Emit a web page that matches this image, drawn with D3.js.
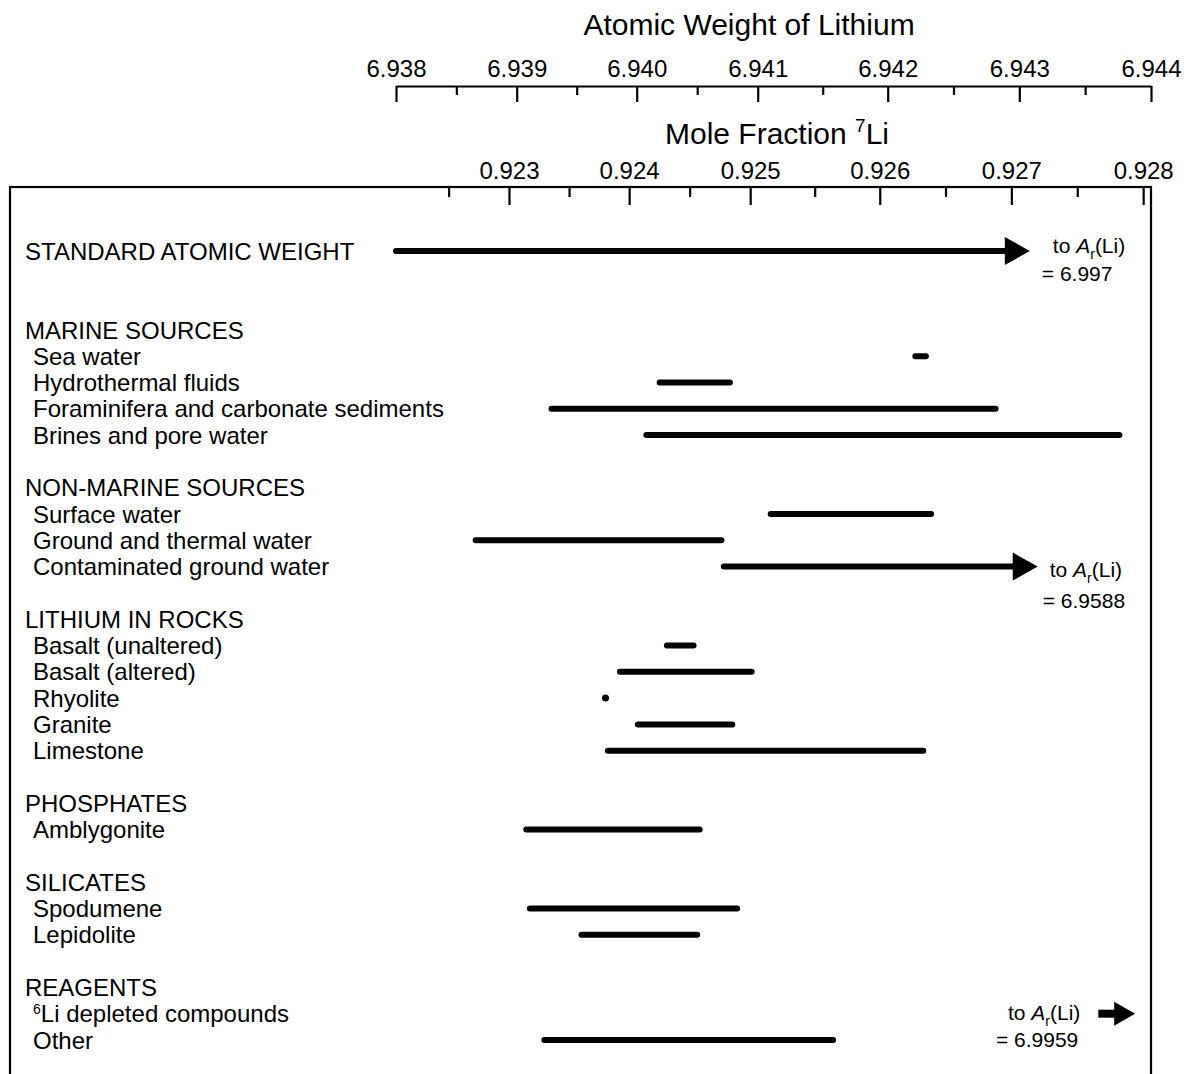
<!DOCTYPE html>
<html>
<head>
<meta charset="utf-8">
<title>Atomic weight of lithium</title>
<script src="https://cdn.jsdelivr.net/npm/d3@7"></script>
<style>
  body { margin: 0; background: #fff; }
  text { font-family: "Liberation Sans", Arial, sans-serif; fill: #000; }
  .axis path, .axis line { stroke: #000; stroke-width: 2.2; }
</style>
</head>
<body>
<div id="chart"></div>
<script>
// ---- data (atomic weight of Li) ----
var rowLabels = [
  "STANDARD ATOMIC WEIGHT",
  "MARINE SOURCES", "Sea water", "Hydrothermal fluids",
  "Foraminifera and carbonate sediments", "Brines and pore water",
  "NON-MARINE SOURCES", "Surface water", "Ground and thermal water",
  "Contaminated ground water",
  "LITHIUM IN ROCKS", "Basalt (unaltered)", "Basalt (altered)", "Rhyolite",
  "Granite", "Limestone",
  "PHOSPHATES", "Amblygonite",
  "SILICATES", "Spodumene", "Lepidolite",
  "REAGENTS", "6Li depleted compounds", "Other"
];
// row slots (blank lines between groups)
var rowSlots = [0, 3, 4, 5, 6, 7, 9, 10, 11, 12, 14, 15, 16, 17, 18, 19, 21, 22, 24, 25, 26, 28, 29, 30];
var rowIsGroup = [true, true, false, false, false, false, true, false, false, false,
  true, false, false, false, false, false, true, false, true, false, false, true, false, false];
var lowValues = [6.9380, null, 6.94221, 6.94019, 6.93929, 6.94008, null, 6.94110, 6.93866, 6.94072,
  null, 6.94025, 6.93986, 6.93974, 6.94001, 6.93976, null, 6.93908, null, 6.93911, 6.93954, null, 6.94360, 6.93923];
var highValues = [6.94308, null, 6.94229, 6.94077, 6.94282, 6.94376, null, 6.94233, 6.94070, 6.94314,
  null, 6.94047, 6.94095, 6.93974, 6.94079, 6.94227, null, 6.94052, null, 6.94083, 6.94050, null, 6.94388, 6.94158];
var rowArrow = [true, false, false, false, false, false, false, false, false, true,
  false, false, false, false, false, false, false, false, false, false, false, false, true, false];

// arrows run off the scale to these atomic weights
var annoRows = [0, 9, 22];
var annoValues = ["6.997", "6.9588", "6.9959"];

// axis ticks
var awMajor = [6.938, 6.939, 6.940, 6.941, 6.942, 6.943, 6.944];
var awMinor = [6.9385, 6.9395, 6.9405, 6.9415, 6.9425, 6.9435];
var mfMajor = [0.923, 0.924, 0.925, 0.926, 0.927, 0.928];
var mfMinor = [0.9225, 0.9235, 0.9245, 0.9255, 0.9265, 0.9275];

// isotope masses, to tie mole fraction 7Li to atomic weight
var m6 = 6.0151223, m7 = 7.0160040;
function toMF(aw) { return (aw - m6) / (m7 - m6); }

var width = 1184, height = 1074;
var svg = d3.select('#chart').append('svg')
  .attr('width', width)
  .attr('height', height);

// the printed scale is not quite even; follow its major tick stops
var tickStops = [396, 516.7, 636.7, 757.7, 887.7, 1019.3, 1151];
var x = d3.scaleLinear().domain(awMajor).range(tickStops);
var xMF = d3.scaleLinear().domain(awMajor.map(toMF)).range(tickStops);
var y = d3.scaleLinear().domain([0, 30]).range([251, 1040]);

var topAxisY = 86, boxTop = 187;
var fontFam = '"Liberation Sans", Arial, sans-serif';

// titles
svg.append('text')
  .attr('x', 749).attr('y', 35)
  .attr('text-anchor', 'middle')
  .attr('font-size', 30)
  .text('Atomic Weight of Lithium');

var mft = svg.append('text')
  .attr('x', 777).attr('y', 144)
  .attr('text-anchor', 'middle')
  .attr('font-size', 30);
mft.append('tspan').text('Mole Fraction ');
mft.append('tspan').attr('font-size', 19).attr('dy', -12).text('7');
mft.append('tspan').attr('dy', 12).text('Li');

// top axis (atomic weight)
var gTop = svg.append('g').attr('class', 'axis')
  .attr('transform', 'translate(0,' + topAxisY + ')');
gTop.call(d3.axisBottom(x).tickValues(awMajor).tickSize(16).tickSizeOuter(0)
  .tickFormat(d3.format('.3f')));
gTop.selectAll('text').attr('y', -9).attr('dy', 0).attr('font-size', 24)
  .attr('font-family', fontFam);
svg.append('g').attr('class', 'axis')
  .attr('transform', 'translate(0,' + topAxisY + ')')
  .call(d3.axisBottom(x).tickValues(awMinor).tickSize(9).tickFormat(''))
  .select('.domain').remove();

// frame
svg.append('rect')
  .attr('x', 10).attr('y', boxTop)
  .attr('width', 1141).attr('height', 1000)
  .attr('fill', 'none').attr('stroke', '#000').attr('stroke-width', 2.2);

// lower axis (mole fraction 7Li)
var gMF = svg.append('g').attr('class', 'axis')
  .attr('transform', 'translate(0,' + boxTop + ')');
gMF.call(d3.axisBottom(xMF).tickValues(mfMajor).tickSize(18).tickFormat(d3.format('.3f')));
gMF.select('.domain').remove();
gMF.selectAll('text').attr('y', -8).attr('dy', 0).attr('font-size', 24)
  .attr('font-family', fontFam);
svg.append('g').attr('class', 'axis')
  .attr('transform', 'translate(0,' + boxTop + ')')
  .call(d3.axisBottom(xMF).tickValues(mfMinor).tickSize(10).tickFormat(''))
  .select('.domain').remove();

// row labels
rowLabels.forEach(function(lab, i) {
  var yy = y(rowSlots[i]);
  var t = svg.append('text')
    .attr('x', rowIsGroup[i] ? 25 : 33)
    .attr('font-size', 24);
  var m = lab.match(/^(\d)(Li.*)$/);
  if (m) {
    // superscript mass number, then the rest on the normal baseline
    t.attr('y', yy);
    t.append('tspan').attr('font-size', 14).text(m[1]);
    t.append('tspan').attr('dy', 8.6).text(m[2]);
  } else {
    t.attr('y', yy).attr('dy', '0.36em').text(lab);
  }
});

// ranges
var lw = 6;
rowLabels.forEach(function(lab, i) {
  if (lowValues[i] == null) return;
  var yy = y(rowSlots[i]);
  var x0 = x(lowValues[i]), x1 = x(highValues[i]);
  if (rowArrow[i]) {
    var big = (x1 - x0) > 100;
    var hl = big ? 25 : 21, hh = big ? 14 : 12;
    svg.append('line')
      .attr('x1', x0).attr('x2', x1 - hl + 2)
      .attr('y1', yy).attr('y2', yy)
      .attr('stroke', '#000').attr('stroke-width', big ? lw : 8)
      .attr('stroke-linecap', big ? 'round' : 'butt');
    svg.append('path')
      .attr('d', 'M' + (x1 - hl) + ',' + (yy - hh) + 'L' + x1 + ',' + yy + 'L' + (x1 - hl) + ',' + (yy + hh) + 'Z')
      .attr('fill', '#000');
  } else if (x1 - x0 < 1) {
    svg.append('circle')
      .attr('cx', x0).attr('cy', yy).attr('r', 3.5)
      .attr('fill', '#000');
  } else {
    svg.append('line')
      .attr('x1', x0).attr('x2', x1)
      .attr('y1', yy).attr('y2', yy)
      .attr('stroke', '#000').attr('stroke-width', lw)
      .attr('stroke-linecap', 'round');
  }
});

// "to Ar(Li) = ..." notes
var annoLayout = [
  { dx1: 23, dy1: -6, dx2: 12, dy2: 22, anchor: 'start' },
  { dx1: 12, dy1: 3, dx2: 5, dy2: 34, anchor: 'start' },
  { dx1: -18, dy1: -1, dx2: -20, dy2: 26, anchor: 'end' }
];
annoRows.forEach(function(r, k) {
  var L = annoLayout[k];
  var yy = y(rowSlots[r]);
  var ref = L.anchor === 'end' ? x(lowValues[r]) : x(highValues[r]);
  var t1 = svg.append('text')
    .attr('x', ref + L.dx1).attr('y', yy + L.dy1).attr('dy', '0.36em')
    .attr('text-anchor', L.anchor)
    .attr('font-size', 21);
  t1.append('tspan').text('to ');
  t1.append('tspan').attr('font-style', 'italic').text('A');
  t1.append('tspan').attr('font-size', 14).attr('dy', 6).text('r');
  t1.append('tspan').attr('dy', -6).text('(Li)');
  svg.append('text')
    .attr('x', ref + L.dx2).attr('y', yy + L.dy2).attr('dy', '0.36em')
    .attr('text-anchor', L.anchor)
    .attr('font-size', 21)
    .text('= ' + annoValues[k]);
});
</script>
</body>
</html>
